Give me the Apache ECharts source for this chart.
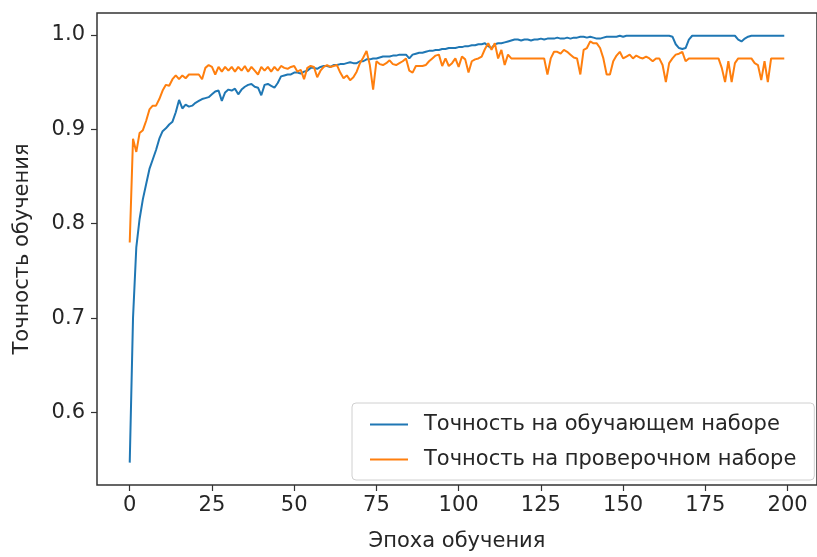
<!DOCTYPE html>
<html>
<head>
<meta charset="utf-8">
<script src="https://cdn.jsdelivr.net/npm/echarts@6/dist/echarts.min.js"></script>
<style>
  html, body { margin: 0; padding: 0; background: #fff; }
  #chart { width: 817px; height: 557px; }
</style>
</head>
<body>
<div id="chart"></div>
<script>
// accuracy per epoch
var trainAcc = [
    0.547, 0.700, 0.775, 0.805, 0.826, 0.842, 0.858, 0.868, 0.878, 0.890,
    0.898, 0.901, 0.905, 0.908, 0.918, 0.931, 0.922, 0.926, 0.924, 0.925,
    0.928, 0.930, 0.932, 0.933, 0.934, 0.937, 0.940, 0.941, 0.930, 0.939,
    0.942, 0.941, 0.943, 0.937, 0.942, 0.945, 0.947, 0.948, 0.945, 0.944,
    0.936, 0.947, 0.948, 0.946, 0.944, 0.949, 0.956, 0.957, 0.958, 0.958,
    0.960, 0.960, 0.959, 0.961, 0.962, 0.965, 0.965, 0.964, 0.966, 0.967,
    0.967, 0.966, 0.968, 0.968, 0.969, 0.969, 0.970, 0.971, 0.970, 0.970,
    0.972, 0.972, 0.974, 0.974, 0.975, 0.975, 0.976, 0.977, 0.977, 0.977,
    0.978, 0.978, 0.979, 0.979, 0.979, 0.975, 0.979, 0.980, 0.981, 0.981,
    0.982, 0.983, 0.983, 0.984, 0.984, 0.985, 0.985, 0.986, 0.986, 0.986,
    0.987, 0.987, 0.988, 0.988, 0.989, 0.989, 0.990, 0.990, 0.991, 0.988,
    0.986, 0.990, 0.991, 0.991, 0.992, 0.993, 0.994, 0.995, 0.995, 0.994,
    0.995, 0.995, 0.994, 0.995, 0.995, 0.996, 0.995, 0.996, 0.996, 0.996,
    0.997, 0.996, 0.996, 0.997, 0.996, 0.997, 0.997, 0.998, 0.998, 0.997,
    0.998, 0.997, 0.996, 0.996, 0.997, 0.998, 0.998, 0.998, 0.998, 0.999,
    0.998, 0.999, 0.999, 0.999, 0.999, 0.999, 0.999, 0.999, 0.999, 0.999,
    0.999, 0.999, 0.999, 0.999, 0.999, 0.998, 0.990, 0.986, 0.985, 0.986,
    0.995, 0.999, 0.999, 0.999, 0.999, 0.999, 0.999, 0.999, 0.999, 0.999,
    0.999, 0.999, 0.999, 0.999, 0.999, 0.995, 0.993, 0.996, 0.998, 0.999,
    0.999, 0.999, 0.999, 0.999, 0.999, 0.999, 0.999, 0.999, 0.999, 0.999
];
var valAcc = [
    0.780, 0.890, 0.876, 0.896, 0.899, 0.909, 0.921, 0.925, 0.925, 0.932,
    0.941, 0.947, 0.946, 0.953, 0.957, 0.953, 0.957, 0.954, 0.958, 0.958,
    0.958, 0.958, 0.953, 0.965, 0.968, 0.966, 0.958, 0.966, 0.961, 0.966,
    0.962, 0.966, 0.961, 0.966, 0.962, 0.967, 0.961, 0.966, 0.962, 0.958,
    0.966, 0.962, 0.966, 0.961, 0.966, 0.962, 0.967, 0.965, 0.964, 0.966,
    0.967, 0.961, 0.963, 0.953, 0.965, 0.967, 0.966, 0.955, 0.962, 0.966,
    0.968, 0.966, 0.967, 0.968, 0.960, 0.954, 0.957, 0.952, 0.955, 0.961,
    0.970, 0.976, 0.983, 0.968, 0.942, 0.972, 0.969, 0.968, 0.970, 0.973,
    0.969, 0.968, 0.970, 0.972, 0.975, 0.962, 0.960, 0.967, 0.967, 0.967,
    0.968, 0.972, 0.975, 0.978, 0.979, 0.967, 0.975, 0.967, 0.970, 0.975,
    0.966, 0.977, 0.974, 0.960, 0.972, 0.974, 0.975, 0.977, 0.985, 0.991,
    0.984, 0.991, 0.975, 0.984, 0.968, 0.979, 0.975, 0.975, 0.975, 0.975,
    0.975, 0.975, 0.975, 0.975, 0.975, 0.975, 0.975, 0.958, 0.975, 0.982,
    0.982, 0.980, 0.984, 0.982, 0.979, 0.976, 0.975, 0.958, 0.984, 0.986,
    0.993, 0.991, 0.991, 0.986, 0.975, 0.958, 0.958, 0.972, 0.978, 0.982,
    0.975, 0.977, 0.979, 0.975, 0.978, 0.976, 0.975, 0.977, 0.975, 0.972,
    0.975, 0.975, 0.968, 0.950, 0.970, 0.975, 0.979, 0.980, 0.982, 0.972,
    0.975, 0.975, 0.975, 0.975, 0.975, 0.975, 0.975, 0.975, 0.975, 0.975,
    0.965, 0.950, 0.972, 0.950, 0.970, 0.975, 0.975, 0.975, 0.975, 0.975,
    0.970, 0.968, 0.952, 0.972, 0.950, 0.975, 0.975, 0.975, 0.975, 0.975
];
var xTicks = [0, 25, 50, 75, 100, 125, 150, 175, 200];
var yTicks = [0.6, 0.7, 0.8, 0.9, 1.0];
var seriesNames = ["Точность на обучающем наборе", "Точность на проверочном наборе"];

function pairs(values) {
    return values.map(function (v, i) { return [i, v]; });
}

var textColor = "#262626";
var fontFamily = "DejaVu Sans";
var fontSize = 21;

var chart = echarts.init(document.getElementById("chart"));
chart.setOption({
    animation: false,
    textStyle: { fontFamily: fontFamily },
    grid: {
        left: 97, top: 13, right: -10, bottom: 69,
        show: true, borderColor: "#333", borderWidth: 1.5,
        backgroundColor: "#fff"
    },
    legend: {
        orient: "vertical",
        left: 352, top: 403,
        padding: [11, 18, 10, 18],
        itemGap: 14,
        itemWidth: 38,
        itemHeight: 2,
        icon: "rect",
        backgroundColor: "rgba(255,255,255,0.85)",
        borderColor: "#d0d0d0",
        borderWidth: 1,
        borderRadius: 4,
        textStyle: { fontSize: fontSize, color: textColor, fontFamily: fontFamily, padding: [0, 0, 0, 11] },
        data: seriesNames
    },
    xAxis: {
        type: "value",
        min: -9.95, max: 208.95,
        name: "Эпоха обучения",
        nameLocation: "middle",
        nameGap: 46,
        nameTextStyle: { fontSize: fontSize, color: textColor },
        axisLine: { show: false, onZero: false },
        splitLine: { show: false },
        axisTick: { show: true, length: 6, customValues: xTicks, lineStyle: { color: "#333", width: 1.2 } },
        axisLabel: { customValues: xTicks, margin: 10, fontSize: fontSize, color: textColor }
    },
    yAxis: {
        type: "value",
        min: 0.5233, max: 1.0231,
        name: "Точность обучения",
        nameLocation: "middle",
        nameGap: 64,
        nameTextStyle: { fontSize: fontSize, color: textColor },
        axisLine: { show: false, onZero: false },
        splitLine: { show: false },
        axisTick: { show: true, length: 6, customValues: yTicks, lineStyle: { color: "#333", width: 1.2 } },
        axisLabel: {
            customValues: yTicks, margin: 12, fontSize: fontSize, color: textColor,
            formatter: function (v) { return v.toFixed(1); }
        }
    },
    series: [
        {
            name: seriesNames[0], type: "line", data: pairs(trainAcc),
            showSymbol: false, color: "#1f77b4",
            lineStyle: { width: 2, color: "#1f77b4" }
        },
        {
            name: seriesNames[1], type: "line", data: pairs(valAcc),
            showSymbol: false, color: "#ff7f0e",
            lineStyle: { width: 2, color: "#ff7f0e" }
        }
    ]
});
</script>
</body>
</html>
